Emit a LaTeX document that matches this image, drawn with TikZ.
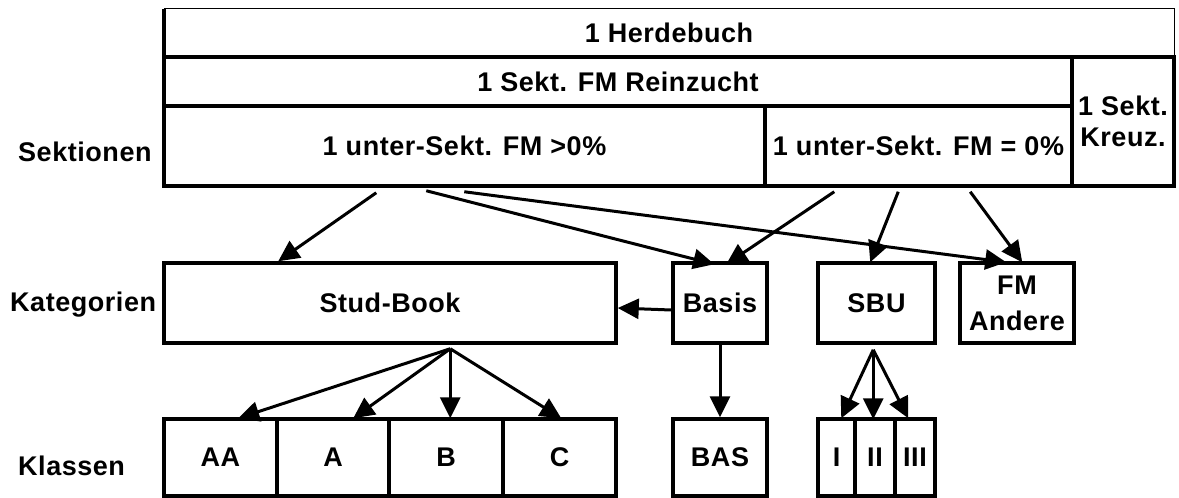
\documentclass[tikz,border=0pt]{standalone}
\usepackage{fontspec}
\setmainfont{Liberation Sans}[LetterSpace=2]
\usetikzlibrary{arrows.meta,calc}
\begin{document}
\begin{tikzpicture}[x=1pt,y=-1pt,
  font=\bfseries\fontsize{27}{31}\selectfont,
  cell/.style={draw, line width=3.5pt, inner sep=0pt, align=center,
               minimum width=#1},
  rowlabel/.style={anchor=west, inner sep=0pt},
  link/.style={line width=3pt, -{Triangle[length=21pt,width=20pt]}}
]
\useasboundingbox (0,0) rectangle (1179,498);

% --- section table ---
\node (herd) [inner sep=0pt, minimum width=1010pt, minimum height=48pt] at (669,33) {1 Herdebuch};
\draw[line width=3.5pt] (herd.north west) -- (herd.south west);
\draw[line width=1.2pt] (herd.north west) -- (herd.north east) -- (herd.south east);
\node (rein)  [cell=908pt, minimum height=49pt]  at (618,81.5)   {1 Sekt. FM Reinzucht};
\node (kreuz) [cell=102pt, minimum height=129pt] at (1123,121.5) {1 Sekt.\\Kreuz.};
\node (gt0)   [cell=601pt, minimum height=80pt]  at (464.5,146)  {1 unter-Sekt. FM >0\%};
\node (eq0)   [cell=307pt, minimum height=80pt]  at (918.5,146)  {1 unter-Sekt. FM = 0\%};

% --- row labels ---
\node (lsek) [rowlabel] at (18,152) {Sektionen};
\node (lkat) [rowlabel] at (10,305) {Kategorien};
\node (lkla) [rowlabel] at (18,466) {Klassen};

% --- categories ---
\node (stud)  [cell=452pt, minimum height=80pt] at (390,303)    {Stud-Book};
\node (basis) [cell=94pt,  minimum height=80pt] at (720,303)    {Basis};
\node (sbu)   [cell=117pt, minimum height=80pt] at (876.5,303)  {SBU};
\node (fma)   [cell=114pt, minimum height=80pt] at (1017,303)   {FM\\[5pt]Andere};

% --- classes ---
\node (aa)  [cell=113pt, minimum height=77pt] at (220.5,457.5) {AA};
\node (ka)  [cell=112pt, minimum height=77pt] at (333,457.5)   {A};
\node (kb)  [cell=114pt, minimum height=77pt] at (446,457.5)   {B};
\node (kc)  [cell=113pt, minimum height=77pt] at (559.5,457.5) {C};
\node (bas) [cell=94pt,  minimum height=77pt] at (720,457.5)   {BAS};
\node (k1)  [cell=37pt,  minimum height=77pt] at (836.5,457.5) {I};
\node (k2)  [cell=40pt,  minimum height=77pt] at (875,457.5)   {II};
\node (k3)  [cell=40pt,  minimum height=77pt] at (915,457.5)   {III};

% --- sections to categories ---
\draw[link] ($(gt0.south west)+(214,5)$) -- ($(stud.north west)+(116,0)$);
\draw[link] ($(gt0.south west)+(264,3)$) -- ($(basis.north west)+(43,3)$);
\draw[link] ($(gt0.south west)+(302,4)$) -- ($(fma.north west)+(48,1)$);
\draw[link] ($(eq0.south west)+(71,4)$)  -- ($(basis.north west)+(55,3)$);
\draw[link] ($(eq0.south west)+(135,4)$) -- ($(sbu.north west)+(54,1)$);
\draw[link] ($(eq0.south west)+(207,4)$) -- ($(fma.north west)+(64,1)$);

% --- Basis feeds Stud-Book ---
\draw[link] ($(basis.west)+(0,7)$) -- ($(stud.east)+(0,5)$);

% --- categories to classes ---
\coordinate (sbot) at ($(stud.south west)+(288,4)$);
\draw[link] (sbot) -- ($(aa.north west)+(76,1)$);
\draw[link] (sbot) -- ($(ka.north west)+(78,1)$);
\draw[link] (sbot) -- ($(kb.north west)+(63,1)$);
\draw[link] (sbot) -- ($(kc.north west)+(60,1)$);
\draw[link] (basis.south) -- (bas.north);
\coordinate (ubot) at ($(sbu.south west)+(57,5)$);
\draw[link] (ubot) -- ($(k1.north west)+(25,1)$);
\draw[link] (ubot) -- ($(k2.north west)+(20,2)$);
\draw[link] (ubot) -- ($(k3.north west)+(15,1)$);
\end{tikzpicture}
\end{document}
